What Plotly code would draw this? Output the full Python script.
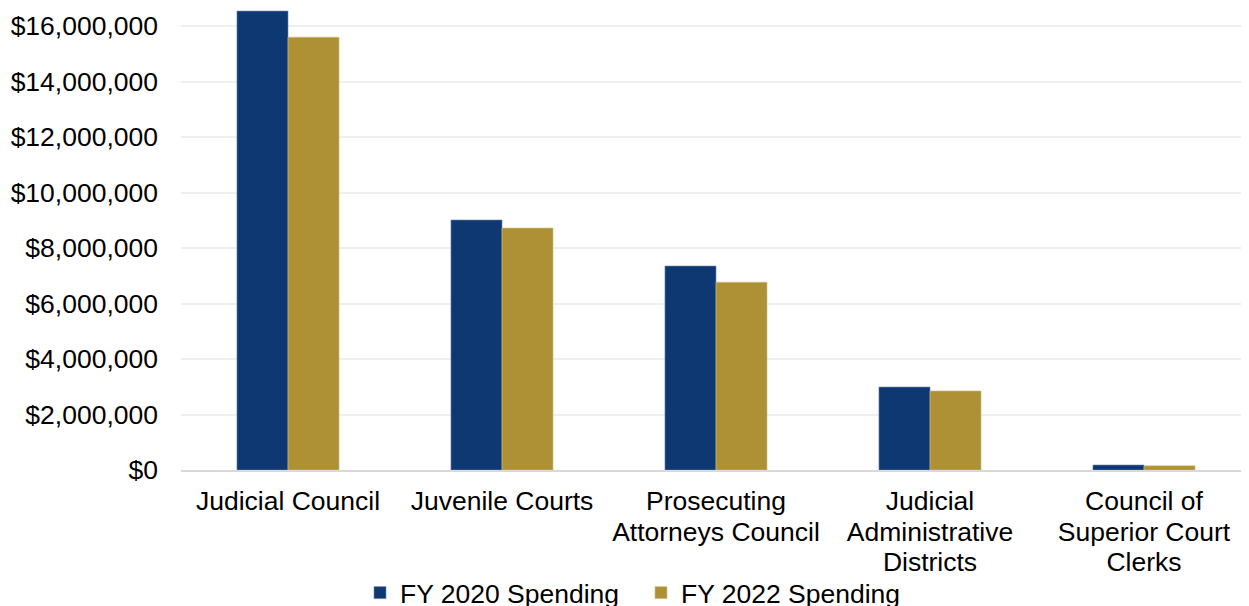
import plotly.graph_objects as go

categories = ["Judicial Council", "Juvenile Courts", "Prosecuting<br>Attorneys Council",
              "Judicial<br>Administrative<br>Districts", "Council of<br>Superior Court<br>Clerks"]
fy2020 = [16540000, 9010000, 7350000, 2990000, 180000]
fy2022 = [15600000, 8720000, 6770000, 2850000, 150000]
tick_vals = [0, 2000000, 4000000, 6000000, 8000000, 10000000, 12000000, 14000000, 16000000]
tick_text = ["$0", "$2,000,000", "$4,000,000", "$6,000,000", "$8,000,000",
             "$10,000,000", "$12,000,000", "$14,000,000", "$16,000,000"]

FS = 26.5
font = dict(family="Liberation Sans, Arial, sans-serif", size=FS, color="#000000")


def big(label):
    return "<br>".join(f"<span style='font-size:{FS}px'>{p}</span>" for p in label.split("<br>"))


fig = go.Figure()
fig.add_trace(go.Bar(name="FY 2020 Spending", x=categories, y=fy2020,
                     marker=dict(color="#0E3872", line=dict(color="#6f86aa", width=0.6))))
fig.add_trace(go.Bar(name="FY 2022 Spending", x=categories, y=fy2022,
                     marker=dict(color="#AD9134", line=dict(color="#d3c08a", width=0.6))))

fig.update_layout(
    width=1249, height=606, autosize=False,
    barmode="group", bargap=0.523, bargroupgap=0,
    plot_bgcolor="white", paper_bgcolor="white",
    font=font,
    margin=dict(l=173, r=6, t=0, b=144, autoexpand=False),
    showlegend=True,
    legend=dict(orientation="h", x=0.1673, xanchor="left", y=-0.266, yanchor="middle",
                font=font, itemwidth=30, entrywidth=236, entrywidthmode="pixels",
                bgcolor="rgba(0,0,0,0)", traceorder="normal"),
)
fig.update_yaxes(range=[0, 16650000], tickvals=tick_vals, ticktext=tick_text,
                 showgrid=True, gridcolor="#efefef", gridwidth=1.5, automargin=False,
                 zeroline=False, showline=False, ticks="", ticklabelstandoff=22,
                 tickfont=font)
fig.update_xaxes(showline=True, linecolor="#d9d9d9", linewidth=2, ticks="", automargin=False,
                 tickmode="array", tickvals=categories, ticktext=[big(c) for c in categories],
                 tickfont=dict(family=font["family"], size=23.5, color="#000000"),
                 ticklabelstandoff=10)

fig.write_html("out.html")
